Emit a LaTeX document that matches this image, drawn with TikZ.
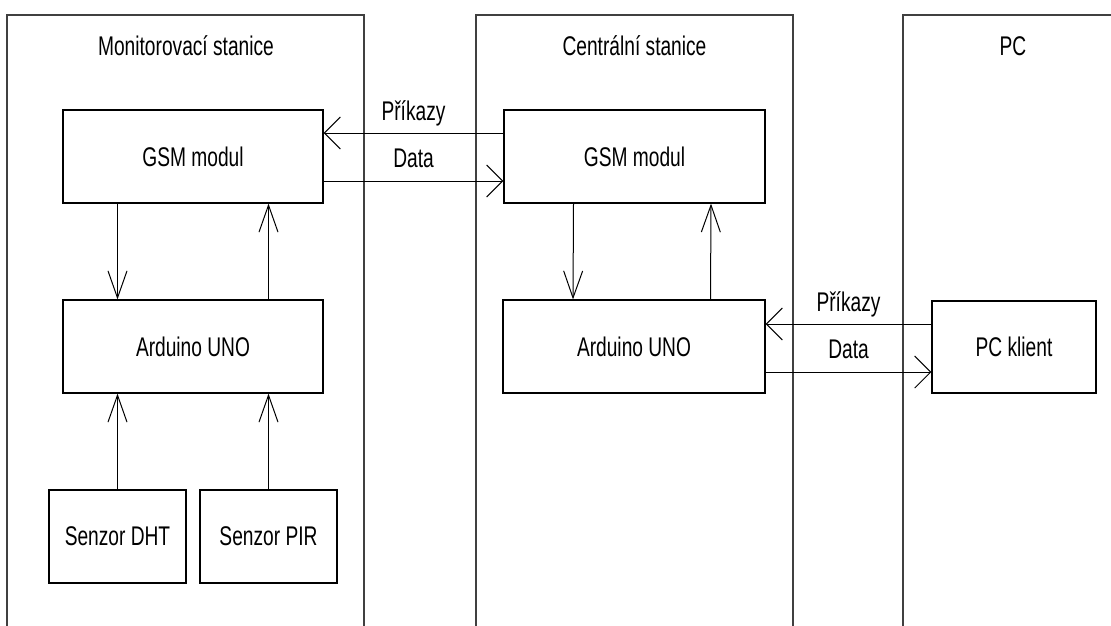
\documentclass[tikz,border=0pt]{standalone}
\usepackage{fontspec}
\setmainfont{Liberation Sans}[FakeStretch=0.71]
\usetikzlibrary{arrows.meta}

\tikzset{
  box/.style={draw, line width=1.2pt, minimum height=93pt, inner sep=0pt},
  frame/.style={draw=black!75, line width=1.4pt},
  varrow/.style={line width=1pt, -{Straight Barb[length=27pt,width=19pt]}},
  harrow/.style={line width=1pt, -{Straight Barb[length=16pt,width=32pt]}},
  lbl/.style={inner sep=0pt}
}

\begin{document}
\begin{tikzpicture}[x=1pt, y=-1pt, font=\fontsize{27}{31}\selectfont]
  \useasboundingbox (0,0) rectangle (1111,626);

  % stations
  \draw[frame] (7,626) -- (7,15) -- (364,15) -- (364,626);
  \draw[frame] (476,626) -- (476,15) -- (793,15) -- (793,626);
  \draw[frame] (1111,15) -- (903,15) -- (903,626);
  \node[lbl] (titleA) at (186,46) {Monitorovací stanice};
  \node[lbl] (titleB) at (634.5,46) {Centrální stanice};
  \node[lbl] (titleC) at (1013,46) {PC};

  % monitorovaci stanice
  \node[box, minimum width=260pt] (gsmA) at (193,156.5) {GSM modul};
  \node[box, minimum width=260pt] (ardA) at (193,346.5) {Arduino UNO};
  \node[box, minimum width=137pt] (dht) at (117.5,536.5) {Senzor DHT};
  \node[box, minimum width=137pt] (pir) at (268.5,536.5) {Senzor PIR};

  % centralni stanice
  \node[box, minimum width=261pt] (gsmB) at (634.5,156.5) {GSM modul};
  \node[box, minimum width=262pt] (ardB) at (634,346.5) {Arduino UNO};

  % PC
  \node[box, minimum width=164pt, minimum height=92pt] (pc) at (1014,347) {PC klient};

  % vertical links
  \draw[varrow] (gsmA.south -| dht) -- (ardA.north -| dht);
  \draw[varrow] (ardA.north -| pir) -- (gsmA.south -| pir);
  \draw[varrow] (dht.north) -- (ardA.south -| dht);
  \draw[varrow] (pir.north) -- (ardA.south -| pir);
  \draw[varrow] ([xshift=-61pt]gsmB.south) -- ([xshift=-61pt]ardB.north);
  \draw[varrow] ([xshift=76.5pt]ardB.north) -- ([xshift=76.5pt]gsmB.south);

  % GSM link
  \draw[harrow] ([yshift=23.5pt]gsmB.west) -- ([yshift=23.5pt]gsmB.west -| gsmA.east)
    node[lbl, midway, yshift=20pt] {Příkazy};
  \draw[harrow] ([yshift=-24.5pt]gsmA.east) -- ([yshift=-24.5pt]gsmA.east -| gsmB.west)
    node[lbl, midway, yshift=22.5pt] {Data};

  % serial link
  \draw[harrow] ([yshift=23pt]pc.west) -- ([yshift=23pt]pc.west -| ardB.east)
    node[lbl, midway, yshift=20pt] {Příkazy};
  \draw[harrow] ([yshift=-25pt]pc.west -| ardB.east) -- ([yshift=-25pt]pc.west)
    node[lbl, midway, yshift=22.5pt] {Data};
\end{tikzpicture}
\end{document}
